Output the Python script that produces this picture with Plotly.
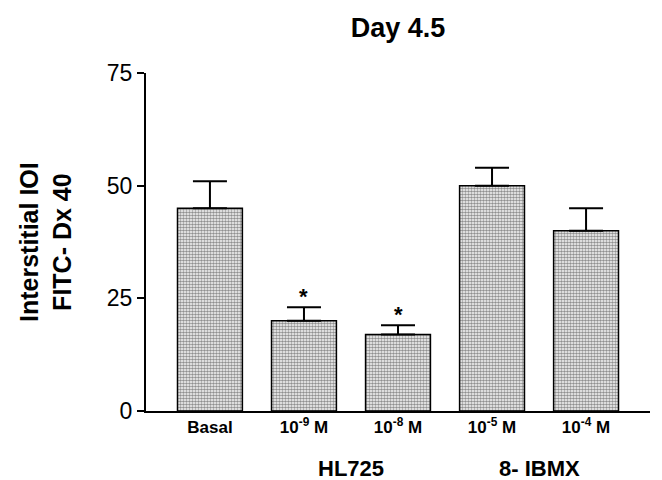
import plotly.graph_objects as go

categories = ["Basal", "10<sup>-9</sup> M", "10<sup>-8</sup> M", "10<sup>-5</sup> M", "10<sup>-4</sup> M"]
values = [45, 20, 17, 50, 40]
errors = [6, 3, 2, 4, 5]
significant = [False, True, True, False, False]
groups = [("HL725", 1.5), ("8- IBMX", 3.5)]
y_ticks = [0, 25, 50, 75]

xs = list(range(len(categories)))
FONT = "Liberation Sans, Arial, sans-serif"

fig = go.Figure()
fig.add_trace(go.Bar(
    x=xs, y=values, width=0.69,
    marker=dict(color="white",
                line=dict(color="black", width=1.5),
                pattern=dict(shape=".", size=3, solidity=0.6, fgcolor="#222222", bgcolor="white")),
    error_y=dict(type="data", array=errors, arrayminus=[0]*len(errors), symmetric=False,
                 color="black", thickness=2, width=17),
))

annotations = []
for x, v, e, s in zip(xs, values, errors, significant):
    if s:
        annotations.append(dict(x=x, y=v + e, text="<b>*</b>", showarrow=False, yanchor="bottom",
                                yshift=-4, font=dict(size=22, family=FONT, color="black")))
for name, pos in groups:
    annotations.append(dict(x=pos, y=0, yref="paper", text=f"<b>{name}</b>", showarrow=False,
                            yanchor="middle", yshift=-57, font=dict(size=22, family=FONT, color="black")))
annotations.append(dict(x=0, y=0.5, xref="paper", yref="paper", xshift=-101,
                        text="<b>Interstitial IOI<br>FITC- Dx 40</b>",
                        textangle=-90, showarrow=False, xanchor="center", yanchor="middle",
                        font=dict(size=25, family=FONT, color="black")))

fig.update_layout(
    width=662, height=480,
    margin=dict(l=146, r=12, t=73, b=69),
    paper_bgcolor="white", plot_bgcolor="white",
    showlegend=False,
    title=dict(text="<b>Day 4.5</b>", x=398/662, xanchor="center", y=1 - 28/480, yanchor="middle",
               font=dict(size=27, family=FONT, color="black")),
    xaxis=dict(range=[-0.68, 4.68], tickvals=xs, ticktext=[f"<b>{c}</b>" for c in categories],
               showline=True, linecolor="black", linewidth=2, ticks="", showgrid=False, zeroline=False,
               automargin=False,
               tickfont=dict(size=17, family=FONT, color="black")),
    yaxis=dict(range=[0, 75], tickvals=y_ticks, showline=True, linecolor="black", linewidth=2,
               ticks="outside", ticklen=7, tickwidth=2, tickcolor="black", showgrid=False, zeroline=False,
               automargin=False,
               tickfont=dict(size=23, family=FONT, color="black")),
    annotations=annotations,
)

fig.write_html("out.html", config={"displayModeBar": False},
               post_script="document.body.style.margin='0';")
